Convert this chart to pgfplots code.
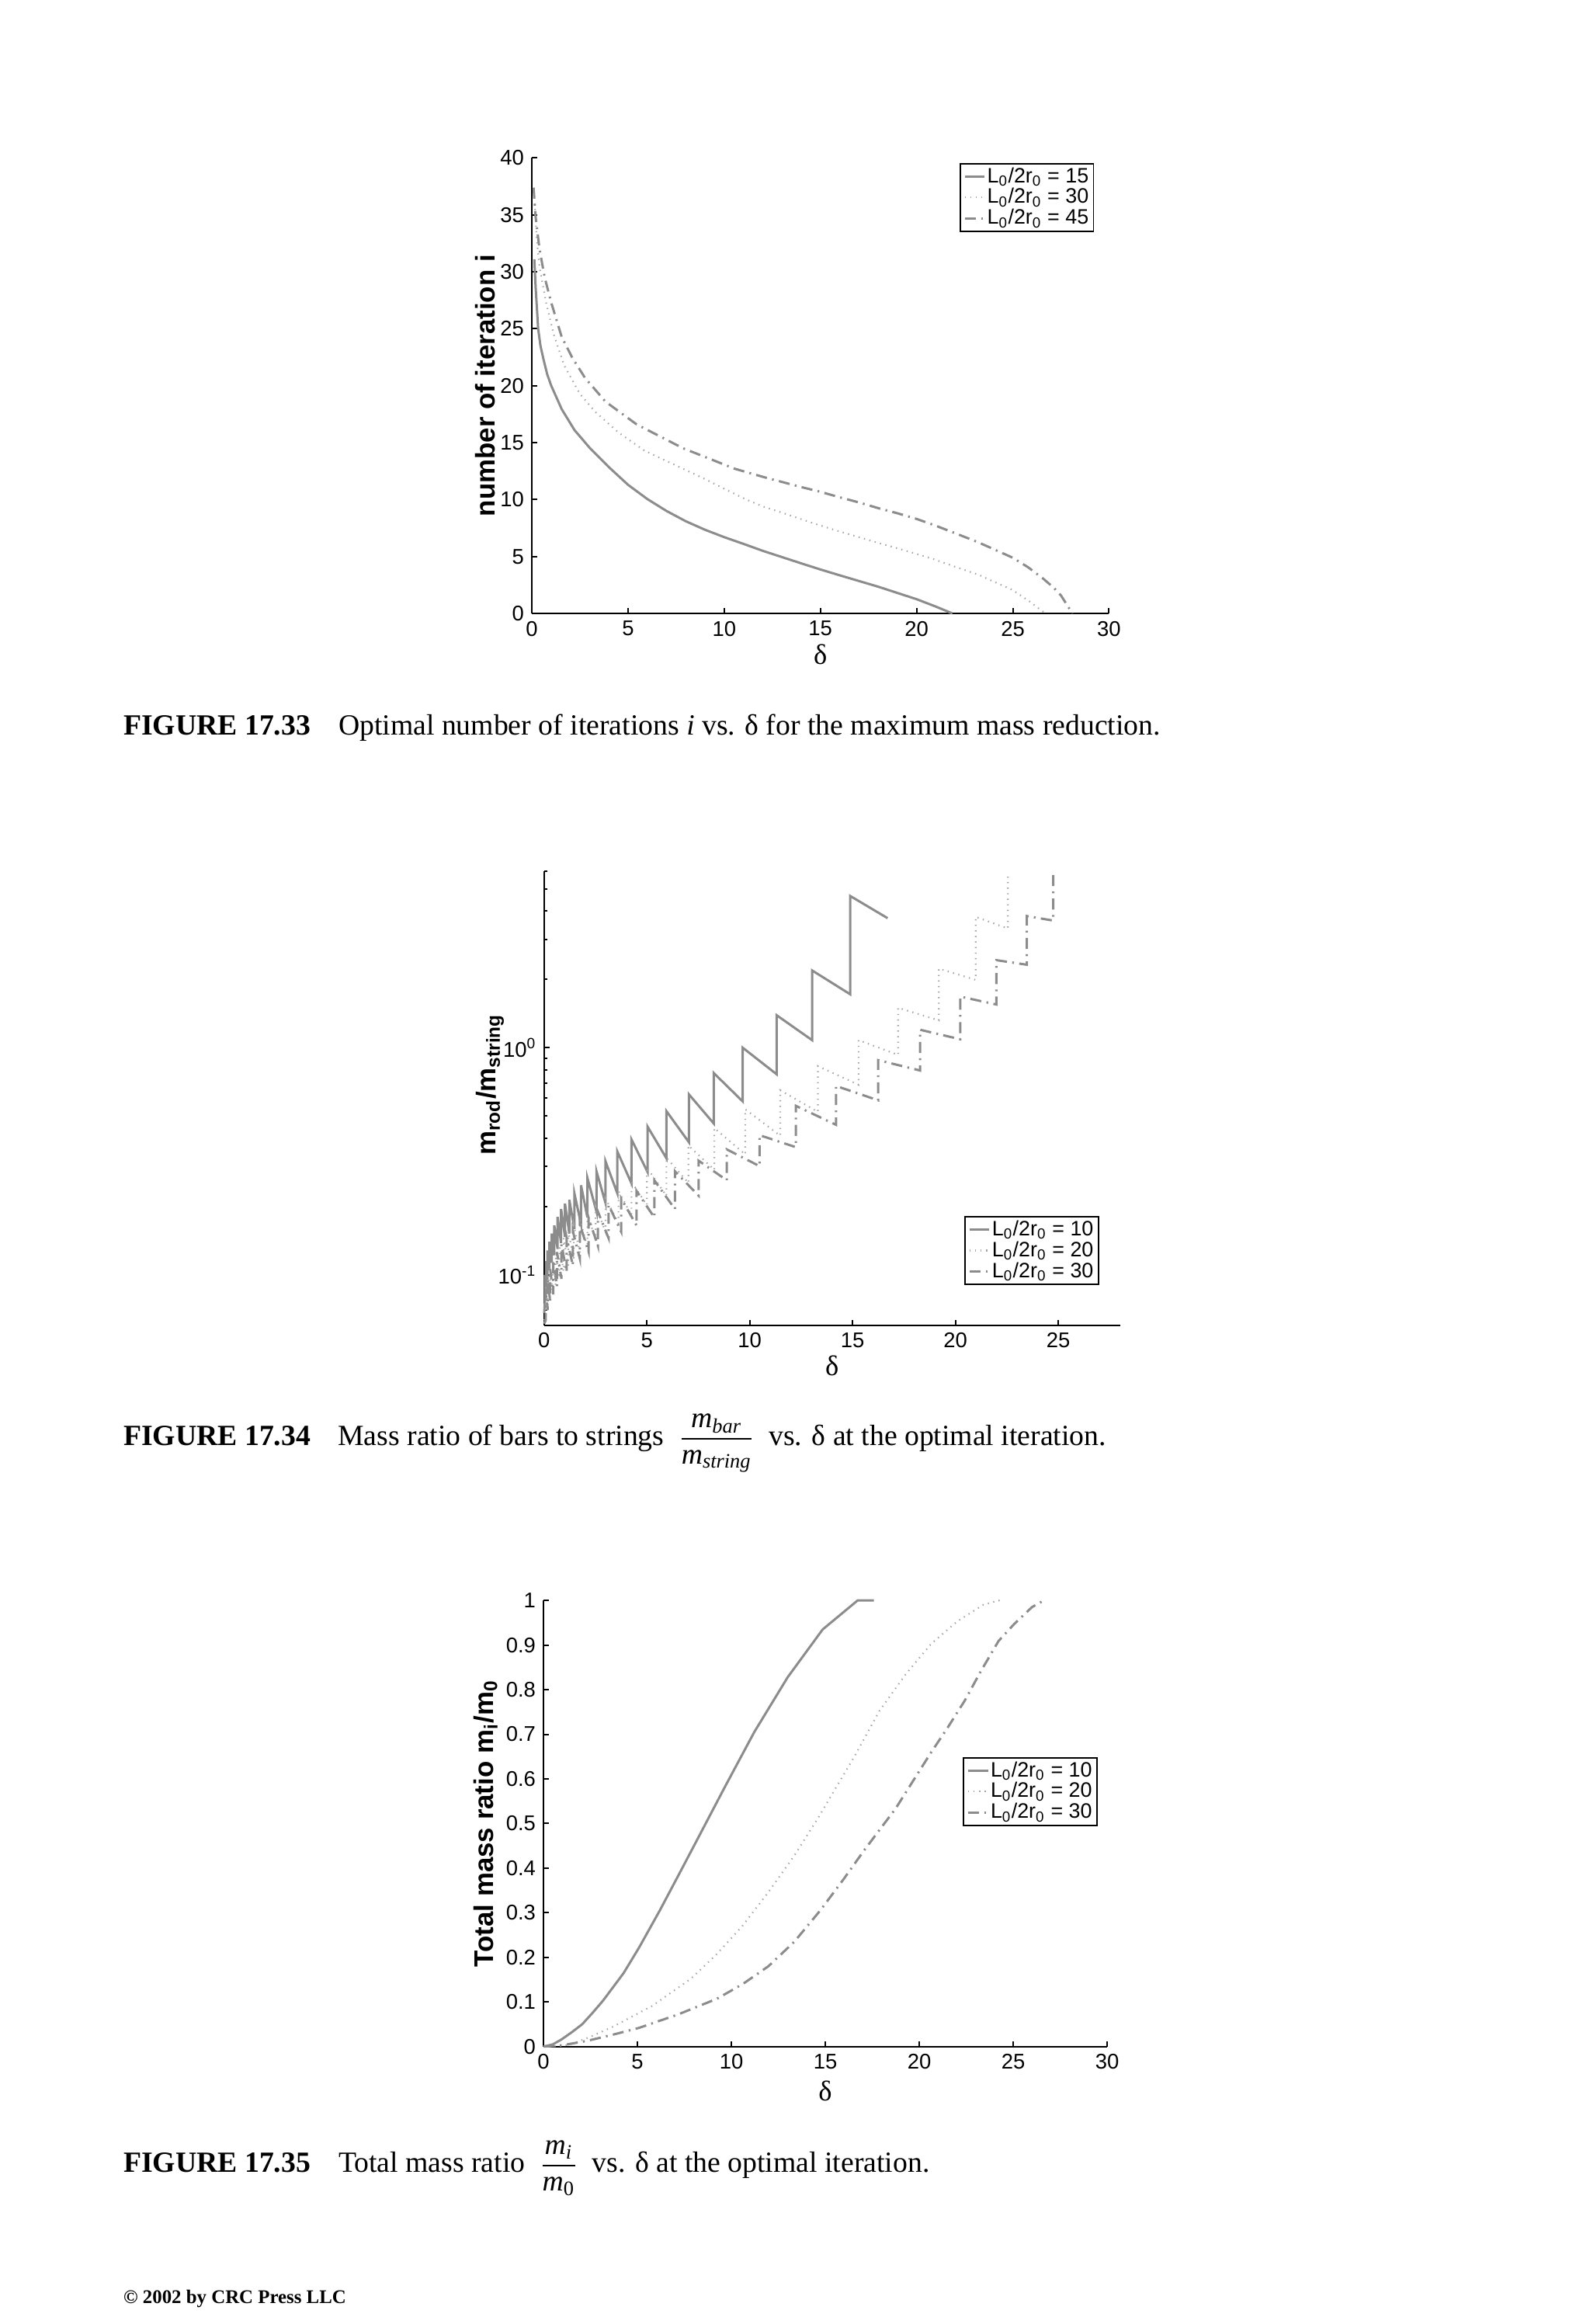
\documentclass[border=0pt]{standalone}
\usepackage{fontspec}
\setmainfont{Liberation Serif}
\setsansfont{Liberation Sans}
\usepackage{amsmath}
\usepackage{pgfplots}
\pgfplotsset{compat=1.18}

\definecolor{curve}{RGB}{140,140,140}
\definecolor{curvelight}{RGB}{165,165,165}

\newcommand\tickfont{\fontsize{9.6}{10}\selectfont\sffamily}
\newcommand\legfont{\fontsize{9.4}{10}\selectfont\sffamily}
\newcommand\labfont{\fontsize{12.2}{13}\selectfont\sffamily\bfseries}
\newcommand\deltafont{\fontsize{12.8}{13}\selectfont\rmfamily}
\newcommand\capfont{\fontsize{13.2}{15}\selectfont\rmfamily}
\newcommand\footfont{\fontsize{8.7}{10}\selectfont\rmfamily\bfseries}

\pgfplotsset{
  matlab/.style={
    scale only axis,
    anchor=south west,
    clip=false,
    enlargelimits=false,
    axis x line*=bottom,
    axis y line*=left,
    axis line style={line width=0.75pt},
    tick align=inside,
    major tick length=2.4pt,
    minor tick length=1.4pt,
    every tick/.style={black, line width=0.7pt},
    tick label style={font=\tickfont},
    xlabel style={font=\deltafont, anchor=base},
    ylabel style={font=\labfont, anchor=base},
    legend style={draw=black, line width=0.6pt, fill=white, font=\legfont,
      anchor=north west, inner xsep=1.5pt, inner ysep=1pt, row sep=-0.3pt,
      cells={anchor=west}, nodes={inner sep=0.7pt}},
    legend image code/.code={\draw[#1] (0pt,0pt) -- (9pt,0pt);},
  },
  solidline/.style={curve, line width=1.05pt, solid},
  dotline/.style={curvelight, line width=0.75pt, dash pattern=on 0.5pt off 2pt},
  dashdotline/.style={curve, line width=1.05pt, dash pattern=on 5pt off 2.4pt on 0.8pt off 2.4pt},
}

\begin{document}
\begin{tikzpicture}
\path[use as bounding box] (0pt,0pt) rectangle (716.8pt,-1047.55pt);

% ---------------- Figure 17.33
\begin{axis}[matlab,
  at={(239.75pt,-276.5pt)},
  width=260.2pt, height=205.3pt,
  xmin=0, xmax=30, ymin=0, ymax=40,
  xtick={0,5,10,15,20,25,30},
  xticklabels={0,5,10,15,20,25,30},
  ytick={0,5,10,15,20,25,30,35,40},
  yticklabels={0,5,10,15,20,25,30,35,40},
  xlabel={δ},
  xlabel style={at={(axis description cs:0.5,-0.111)}},
  ylabel={number of iteration i},
  ylabel style={at={(axis description cs:-0.064,0.5)}},
  legend style={at={(axis description cs:0.741,0.989)}},
]
\addplot[solidline] coordinates {
(0.13,31.1)(0.2,28.6)(0.33,25)(0.45,23.5)(0.61,22.3)(0.8,21)(1.01,20)(1.3,18.9)
(1.55,17.95)(2.22,16.1)(3.03,14.5)(4.1,12.7)(5,11.3)(6,10.05)(7,9.0)(8,8.1)
(9,7.35)(10,6.7)(11.1,6.05)(12,5.5)(13,4.95)(14,4.4)(15,3.86)(16,3.35)(17,2.85)
(18,2.35)(19,1.8)(20,1.25)(21,0.6)(21.86,0)};
\addlegendentry{L\textsubscript{0}/2r\textsubscript{0} = 15}
\addplot[dotline] coordinates {
(0.15,36)(0.25,33)(0.4,30.4)(0.74,27.3)(1.14,24.5)(1.68,21.8)(2.49,19.3)(3.3,17.7)
(4.5,15.9)(5.85,14.3)(7.87,12.7)(9,11.8)(10,10.95)(11.1,10.04)(12,9.4)(13,8.85)
(14,8.28)(15,7.72)(16,7.2)(17,6.7)(18,6.2)(19,5.72)(20,5.23)(21,4.7)(22,4.1)
(23.2,3.41)(24,2.8)(25,2.05)(25.9,1.02)(26.3,0.5)(26.7,0)};
\addlegendentry{L\textsubscript{0}/2r\textsubscript{0} = 30}
\addplot[dashdotline] coordinates {
(0.09,37.4)(0.2,34.8)(0.4,32)(0.67,29.5)(1.01,27.3)(1.55,24.3)(2.09,22.5)(2.76,20.7)
(3.83,18.6)(5.45,16.6)(7.87,14.5)(10.56,12.7)(12,12)(13,11.55)(14,11.1)(15,10.68)
(16,10.2)(17,9.75)(18,9.25)(19,8.8)(20,8.3)(21,7.7)(22,7.05)(23.2,6.25)(24,5.65)
(25,4.89)(25.8,4.05)(26.57,3.07)(27.1,2.3)(27.5,1.59)(28.1,0)};
\addlegendentry{L\textsubscript{0}/2r\textsubscript{0} = 45}
\end{axis}

% ---------------- Figure 17.34
\begin{axis}[matlab,
  at={(245.25pt,-597.35pt)},
  width=259.7pt, height=204.75pt,
  xmin=0, xmax=28, ymode=log, ymin=0.06, ymax=6,
  xtick={0,5,10,15,20,25},
  xticklabels={0,5,10,15,20,25},
  ytick={0.1,1},
  yticklabels={10\textsuperscript{-1},10\textsuperscript{0}},
  minor ytick={0.07,0.08,0.09,0.2,0.3,0.4,0.5,0.6,0.7,0.8,0.9,2,3,4,5,6},
  xlabel={δ},
  xlabel style={at={(axis description cs:0.5,-0.111)}},
  ylabel={m\textsubscript{rod}/m\textsubscript{string}},
  ylabel style={at={(axis description cs:-0.0845,0.53)}},
  legend style={at={(axis description cs:0.7295,0.2405)}},
]
\addplot[solidline] coordinates {
(0.01,0.068)
(0.04,0.075)(0.04,0.10)
(0.10,0.085)(0.10,0.115)
(0.17,0.095)(0.17,0.128)
(0.26,0.105)(0.26,0.14)
(0.37,0.113)(0.37,0.152)
(0.50,0.122)(0.50,0.165)
(0.66,0.13)(0.66,0.18)
(0.83,0.138)(0.83,0.195)
(1.02,0.147)(1.02,0.206)
(1.23,0.152)(1.23,0.214)
(1.48,0.159)(1.48,0.228)
(1.80,0.167)(1.80,0.248)
(2.11,0.179)(2.11,0.267)
(2.55,0.19)(2.55,0.286)
(2.99,0.207)(2.99,0.316)
(3.56,0.229)(3.56,0.35)
(4.25,0.253)(4.25,0.395)
(5.03,0.284)(5.03,0.45)
(5.95,0.326)(5.95,0.526)
(7.04,0.384)(7.04,0.624)
(8.25,0.464)(8.25,0.774)
(9.66,0.58)(9.66,1.0)
(11.31,0.764)(11.31,1.39)
(13.03,1.08)(13.03,2.19)
(14.88,1.72)(14.88,4.66)
(16.70,3.72)};
\addlegendentry{L\textsubscript{0}/2r\textsubscript{0} = 10}
\addplot[dotline] coordinates {
(0.01,0.063)
(0.09,0.065)(0.09,0.088)
(0.18,0.07)(0.18,0.098)
(0.29,0.077)(0.29,0.107)
(0.42,0.083)(0.42,0.116)
(0.57,0.09)(0.57,0.125)
(0.75,0.097)(0.75,0.135)
(0.95,0.104)(0.95,0.145)
(1.18,0.11)(1.18,0.155)
(1.45,0.118)(1.45,0.165)
(1.75,0.125)(1.75,0.175)
(2.11,0.132)(2.11,0.185)
(2.51,0.143)(2.51,0.2)
(2.99,0.155)(2.99,0.217)
(3.62,0.169)(3.62,0.234)
(4.25,0.183)(4.25,0.257)
(5.0,0.203)(5.0,0.297)
(5.95,0.223)(5.95,0.328)
(7.02,0.254)(7.02,0.371)
(8.28,0.29)(8.28,0.443)
(9.78,0.339)(9.78,0.536)
(11.48,0.41)(11.48,0.65)
(13.31,0.522)(13.31,0.83)
(15.29,0.687)(15.29,1.08)
(17.21,0.93)(17.21,1.50)
(19.19,1.32)(19.19,2.23)
(20.98,1.99)(20.98,3.77)
(22.55,3.35)(22.55,5.66)};
\addlegendentry{L\textsubscript{0}/2r\textsubscript{0} = 20}
\addplot[dashdotline] coordinates {
(0.01,0.061)
(0.08,0.063)(0.08,0.086)
(0.18,0.07)(0.18,0.096)
(0.3,0.076)(0.3,0.106)
(0.45,0.082)(0.45,0.116)
(0.63,0.089)(0.63,0.126)
(0.85,0.096)(0.85,0.136)
(1.1,0.103)(1.1,0.146)
(1.4,0.11)(1.4,0.156)
(1.74,0.118)(1.74,0.167)
(2.17,0.126)(2.17,0.178)
(2.62,0.134)(2.62,0.19)
(3.14,0.145)(3.14,0.203)
(3.75,0.155)(3.75,0.217)
(4.5,0.165)(4.5,0.234)
(5.36,0.179)(5.36,0.261)
(6.36,0.195)(6.36,0.286)
(7.52,0.223)(7.52,0.318)
(8.88,0.261)(8.88,0.357)
(10.48,0.301)(10.48,0.412)
(12.24,0.365)(12.24,0.555)
(14.19,0.458)(14.19,0.679)
(16.24,0.587)(16.24,0.882)
(18.28,0.794)(18.28,1.2)
(20.23,1.09)(20.23,1.68)
(21.99,1.55)(21.99,2.43)
(23.47,2.32)(23.47,3.8)
(24.75,3.63)(24.75,5.92)};
\addlegendentry{L\textsubscript{0}/2r\textsubscript{0} = 30}
\end{axis}

% ---------------- Figure 17.35
\begin{axis}[matlab,
  at={(245pt,-922.5pt)},
  width=254.1pt, height=201.1pt,
  xmin=0, xmax=30, ymin=0, ymax=1,
  xtick={0,5,10,15,20,25,30},
  xticklabels={0,5,10,15,20,25,30},
  ytick={0,0.1,0.2,0.3,0.4,0.5,0.6,0.7,0.8,0.9,1},
  yticklabels={0,0.1,0.2,0.3,0.4,0.5,0.6,0.7,0.8,0.9,1},
  xlabel={δ},
  xlabel style={at={(axis description cs:0.5,-0.122)}},
  ylabel={Total mass ratio m\textsubscript{i}/m\textsubscript{0}},
  ylabel style={at={(axis description cs:-0.0895,0.5)}},
  legend style={at={(axis description cs:0.744,0.649)}},
]
\addplot[solidline] coordinates {
(0,0)(0.5,0.005)(0.96,0.016)(1.5,0.032)(2.06,0.05)(2.6,0.075)(3.17,0.103)
(4.27,0.165)(5.09,0.222)(6.19,0.305)(7.16,0.382)(8.26,0.47)(9.63,0.58)
(11.22,0.705)(13.0,0.828)(14.86,0.935)(16.72,1.0)(17.59,1.0)};
\addlegendentry{L\textsubscript{0}/2r\textsubscript{0} = 10}
\addplot[dotline] coordinates {
(0,0)(0.7,0.001)(1.38,0.004)(2.5,0.022)(3.72,0.045)(5.78,0.091)(7.84,0.152)
(9.22,0.207)(10.6,0.271)(11.97,0.346)(13.35,0.428)(14.73,0.52)(15.14,0.55)
(16.52,0.648)(17.89,0.753)(19.27,0.834)(20.64,0.903)(22.02,0.953)(23.4,0.99)
(24.22,1.0)(24.5,1.0)};
\addlegendentry{L\textsubscript{0}/2r\textsubscript{0} = 20}
\addplot[dashdotline] coordinates {
(0,0)(1,0.003)(2.34,0.013)(3.72,0.027)(5.09,0.042)(7.16,0.072)(9.22,0.107)
(10.6,0.14)(11.97,0.18)(13.35,0.235)(14.73,0.305)(15.97,0.375)(17.07,0.44)
(17.89,0.486)(18.72,0.532)(19.68,0.596)(20.64,0.66)(21.47,0.712)(22.43,0.776)
(23.26,0.84)(24.22,0.909)(25.05,0.947)(26.0,0.985)(26.63,1.0)};
\addlegendentry{L\textsubscript{0}/2r\textsubscript{0} = 30}
\end{axis}

% ---------------- captions
\node[anchor=base west, inner sep=0pt, font=\capfont] at (55.5pt,-331.3pt) {\textbf{FIGURE 17.33}};
\node[anchor=base west, inner sep=0pt, font=\capfont] at (152.4pt,-331.3pt)
  {Optimal number of iterations \textit{i} vs. δ for the maximum mass reduction.};
\node[anchor=base west, inner sep=0pt, font=\capfont] at (55.5pt,-651.6pt) {\textbf{FIGURE 17.34}};
\node[anchor=base west, inner sep=0pt, font=\capfont] at (152.2pt,-651.6pt)
  {Mass ratio of bars to strings\enspace
   $\displaystyle\frac{\textit{m}_{\text{\itshape bar}}}{\textit{m}_{\text{\itshape string}}}$\enspace
   vs. δ at the optimal iteration.};
\node[anchor=base west, inner sep=0pt, font=\capfont] at (55.5pt,-979.2pt) {\textbf{FIGURE 17.35}};
\node[anchor=base west, inner sep=0pt, font=\capfont] at (152.4pt,-979.2pt)
  {Total mass ratio\enspace
   $\displaystyle\frac{\textit{m}_{\text{\itshape i}}}{\textit{m}_{\text{0}}}$\enspace
   vs. δ at the optimal iteration.};
\node[anchor=base west, inner sep=0pt, font=\footfont] at (55.5pt,-1038.4pt) {© 2002 by CRC Press LLC};
\end{tikzpicture}
\end{document}
